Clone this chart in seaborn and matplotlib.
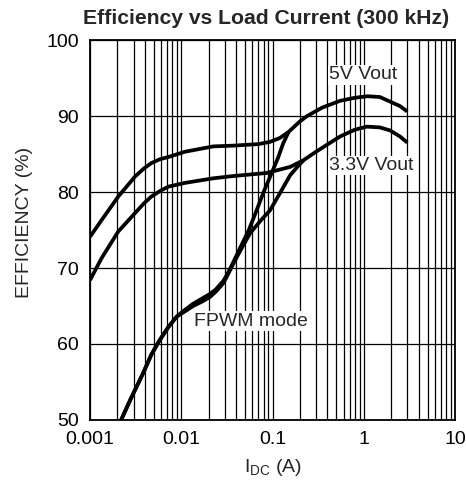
import matplotlib
matplotlib.use("Agg")
import matplotlib.pyplot as plt
import matplotlib.ticker as mticker
import seaborn as sns
import pandas as pd

# load current (A) and efficiency (%)
i_5v = [0.001, 0.00134, 0.00204, 0.0031, 0.0039, 0.0047, 0.0058, 0.0072, 0.011, 0.0224,
        0.037, 0.07, 0.094, 0.12, 0.15, 0.2, 0.24, 0.35, 0.55, 0.8, 1.1, 1.5, 1.94, 2.5, 3.0]
eff_5v = [74.1, 76.3, 79.4, 82.0, 83.1, 83.8, 84.3, 84.6, 85.3, 86.0,
          86.1, 86.3, 86.6, 87.1, 87.9, 89.3, 90.0, 91.1, 92.0, 92.4, 92.6, 92.5, 91.9, 91.3, 90.6]

i_3v3 = [0.001, 0.00134, 0.00204, 0.0031, 0.0039, 0.0047, 0.0058, 0.0072, 0.011, 0.0224,
         0.037, 0.086, 0.156, 0.22, 0.3, 0.55, 0.8, 1.08, 1.5, 1.94, 2.5, 3.0]
eff_3v3 = [68.4, 71.3, 74.8, 77.2, 78.5, 79.4, 80.1, 80.7, 81.2, 81.8,
           82.1, 82.5, 83.3, 84.2, 85.3, 87.3, 88.2, 88.6, 88.5, 88.1, 87.3, 86.5]

i_fpwm_5v = [0.0021, 0.0028, 0.0038, 0.0047, 0.0058, 0.0072, 0.0089, 0.011, 0.0135, 0.017,
             0.0207, 0.024, 0.0289, 0.032, 0.037, 0.044, 0.055, 0.067, 0.08, 0.094, 0.115,
             0.131, 0.15]
eff_fpwm_5v = [49.5, 52.8, 56.1, 58.6, 60.5, 62.2, 63.6, 64.5, 65.3, 66.0,
               66.6, 67.2, 68.3, 69.2, 70.7, 72.6, 75.0, 77.6, 80.0, 82.0, 84.5,
               86.4, 87.9]

i_fpwm_3v3 = [0.0021, 0.0028, 0.0038, 0.0047, 0.0058, 0.0072, 0.0089, 0.011, 0.0135, 0.017,
              0.0207, 0.024, 0.0289, 0.032, 0.037, 0.044, 0.057, 0.075, 0.094, 0.12, 0.156,
              0.19, 0.22]
eff_fpwm_3v3 = [49.5, 52.8, 56.1, 58.6, 60.5, 62.2, 63.6, 64.3, 65.0, 65.6,
                66.2, 66.9, 68.0, 69.0, 70.5, 72.2, 74.6, 76.3, 77.6, 79.8, 82.2,
                83.4, 84.2]

x_ticks = [0.001, 0.01, 0.1, 1, 10]
x_tick_labels = ["0.001", "0.01", "0.1", "1", "10"]
y_ticks = [50, 60, 70, 80, 90, 100]

sns.set_style("white")
plt.rcParams["font.family"] = ["Liberation Sans", "DejaVu Sans"]

W, H = 466, 491
fig = plt.figure(figsize=(W / 100, H / 100), dpi=100)
ax = fig.add_axes([90 / W, 71 / H, 365 / W, 380 / H])

curves = [(i_5v, eff_5v), (i_3v3, eff_3v3), (i_fpwm_5v, eff_fpwm_5v), (i_fpwm_3v3, eff_fpwm_3v3)]
for xs, ys in curves:
    df = pd.DataFrame({"current": xs, "eff": ys})
    sns.lineplot(data=df, x="current", y="eff", ax=ax, color="black", linewidth=2.7,
                 sort=False, solid_capstyle="butt", solid_joinstyle="round", zorder=3)

ax.set_xscale("log")
ax.set_xlim(0.001, 10)
ax.set_ylim(50, 100)
ax.set_xticks(x_ticks)
ax.set_xticklabels(x_tick_labels)
ax.xaxis.set_minor_locator(mticker.LogLocator(base=10, subs=range(2, 10)))
ax.xaxis.set_minor_formatter(mticker.NullFormatter())
ax.set_yticks(y_ticks)
ax.set_xlabel("")
ax.set_ylabel("")

ax.grid(True, which="both", axis="x", color="black", linewidth=0.9)
ax.grid(True, which="major", axis="y", color="black", linewidth=0.9)
ax.set_axisbelow(True)
for sp in ax.spines.values():
    sp.set_color("black")
    sp.set_linewidth(1.3)

ax.tick_params(axis="both", which="both", length=0, labelsize=14, colors="black")
ax.tick_params(axis="y", pad=8)
ax.tick_params(axis="x", pad=8)

fig.text(273 / W, 1 - 468 / H, r"$\mathregular{I_{DC}}$ (A)", ha="center", va="center", fontsize=14)
fig.text(25 / W, 1 - 222 / H, "EFFICIENCY (%)", ha="center", va="center", rotation=90, fontsize=14)
fig.text(266 / W, 1 - 18 / H, "Efficiency vs Load Current (300 kHz)",
         ha="center", va="center", fontsize=15.2, fontweight="bold")

box = dict(facecolor="white", edgecolor="none", pad=1)
ax.text(0.994, 95.4, "5V Vout", ha="center", va="center", fontsize=14, bbox=box, zorder=4)
ax.text(1.217, 83.5, "3.3V Vout", ha="center", va="center", fontsize=14, bbox=box, zorder=4)
ax.text(0.058, 63.0, "FPWM mode", ha="center", va="center", fontsize=14, bbox=box, zorder=4)

fig.savefig("out.png", dpi=100)
